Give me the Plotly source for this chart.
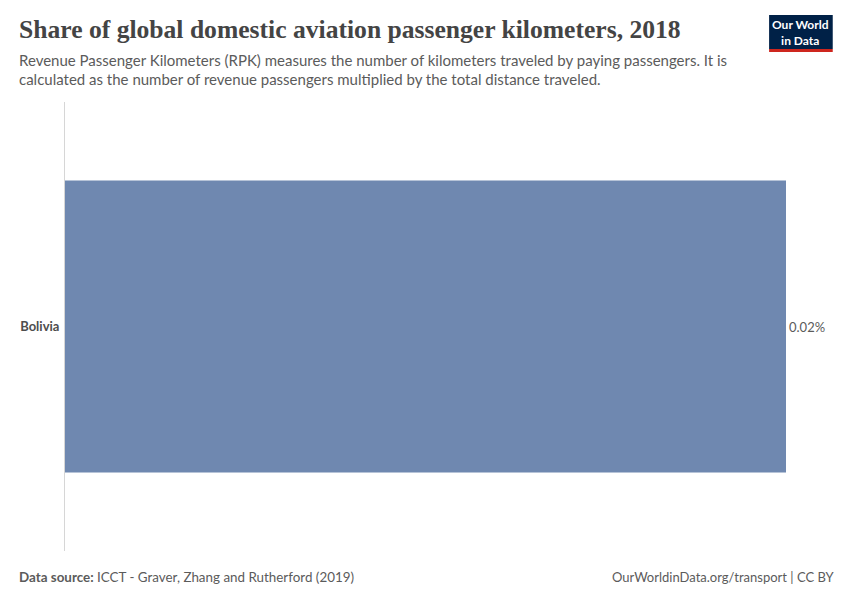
import plotly.graph_objects as go

countries = ["Bolivia"]
shares = [0.02]
value_labels = ["0.02%"]

OFF = 8  # page body margin offset
W, H = 850 - 2 * OFF, 600 - 2 * OFF  # fit inside the viewport, no scrollbars

# target pixel geometry of plot area (in screenshot coordinates)
tl, tr, tt, tb = 61, 786, 102, 551
pl, pt = tl - OFF, tt - OFF
pr, pb = (W + OFF) - tr, (H + OFF) - tb
pw, ph = W - pl - pr, H - pt - pb

def px_x(x): return (x - OFF - pl) / pw
def px_y(y): return ((H + OFF - pb) - y) / ph

fig = go.Figure()
fig.add_trace(go.Bar(
    x=shares, y=countries, orientation="h",
    marker=dict(color="#6f88b0", line=dict(width=0)),
    width=0.65,
    text=value_labels, textposition="outside",
    textfont=dict(family="Lato", size=13, color="#5b5b5b"),
    cliponaxis=False, hoverinfo="skip",
))

fig.update_layout(
    width=W, height=H,
    paper_bgcolor="white", plot_bgcolor="white",
    margin=dict(l=pl, r=pr, t=pt, b=pb),
    showlegend=False,
    xaxis=dict(range=[0, max(shares)], visible=False, fixedrange=True),
    yaxis=dict(showline=True, linecolor="#d6d6d6", linewidth=1, ticks="",
               showgrid=False, ticklabelstandoff=2,
               tickfont=dict(family="Lato", size=13, color="#4d4d4d"),
               range=[-0.5, 0.5],
               tickvals=countries, ticktext=["<b>" + c + "</b>" for c in countries]),
    font=dict(family="Lato"),
)

sub1 = "Revenue Passenger Kilometers (RPK) measures the number of kilometers traveled by paying passengers. It is"
sub2 = "calculated as the number of revenue passengers multiplied by the total distance traveled."

LX = 13
annotations = [
    dict(text="<b>Share of global domestic aviation passenger kilometers, 2018</b>",
         x=px_x(LX), y=px_y(30), xanchor="left", yanchor="middle",
         font=dict(family="Liberation Serif", size=25.6, color="#444444")),
    dict(text=sub1, x=px_x(LX), y=px_y(60), xanchor="left", yanchor="middle",
         font=dict(family="Lato", size=15, color="#5b5b5b")),
    dict(text=sub2, x=px_x(LX), y=px_y(79), xanchor="left", yanchor="middle",
         font=dict(family="Lato", size=15, color="#5b5b5b")),
    dict(text="<b>Data source:</b> ICCT - Graver, Zhang and Rutherford (2019)",
         x=px_x(LX), y=px_y(577), xanchor="left", yanchor="middle",
         font=dict(family="Lato", size=13.4, color="#5b5b5b")),
    dict(text="OurWorldinData.org/transport | CC BY",
         x=px_x(837), y=px_y(577), xanchor="right", yanchor="middle",
         font=dict(family="Lato", size=13, color="#5b5b5b")),
    dict(text="<b>Our World</b><br><b>in Data</b>",
         x=px_x(801), y=px_y(32), xanchor="center", yanchor="middle",
         font=dict(family="Lato", size=12, color="white")),
]
for a in annotations:
    a.update(xref="paper", yref="paper", showarrow=False)

shapes = [
    dict(type="rect", x0=px_x(769), x1=px_x(833), y0=px_y(49), y1=px_y(15),
         fillcolor="#002147"),
    dict(type="rect", x0=px_x(769), x1=px_x(833), y0=px_y(52), y1=px_y(49),
         fillcolor="#ce261e"),
]
for s in shapes:
    s.update(xref="paper", yref="paper", line=dict(width=0), layer="above")

fig.update_layout(annotations=annotations, shapes=shapes)
fig.write_html("out.html")
